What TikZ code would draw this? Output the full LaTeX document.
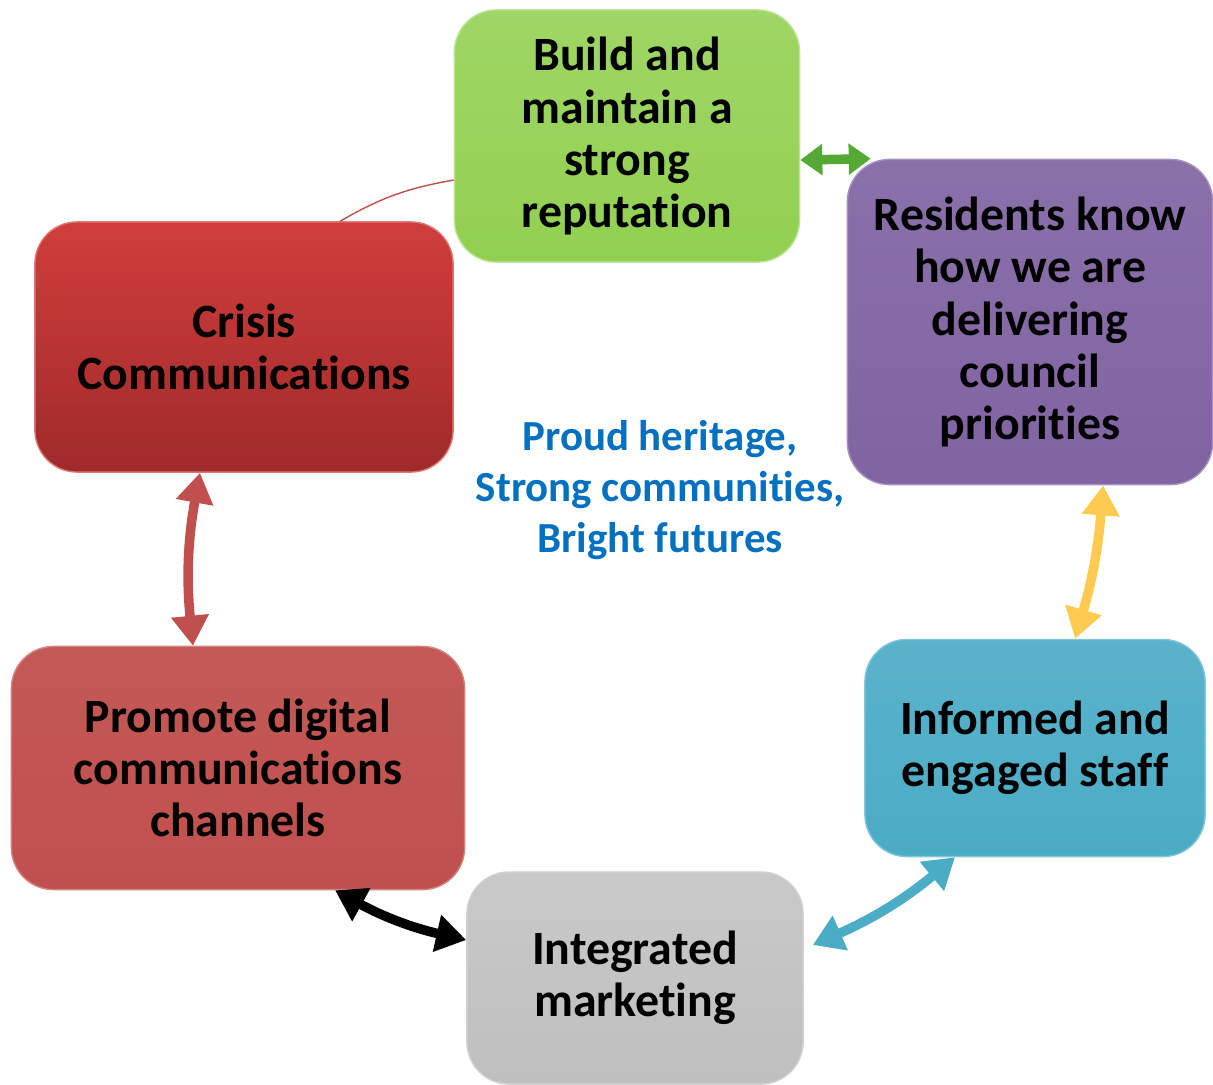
\documentclass[tikz,border=0pt]{standalone}
\usepackage{fontspec}
\setmainfont{Carlito}[Ligatures=NoCommon]
\usetikzlibrary{arrows.meta}

\definecolor{leaf}{HTML}{92D050}
\definecolor{plum}{HTML}{8064A2}
\definecolor{teal}{HTML}{4BACC6}
\definecolor{stone}{HTML}{BFBFBF}
\definecolor{brick}{HTML}{C0504D}
\definecolor{crimsontop}{HTML}{D03E3C}
\definecolor{crimsonbot}{HTML}{A02A2A}
\definecolor{motto}{HTML}{0070C0}
\definecolor{leafarrow}{HTML}{55A834}
\definecolor{sun}{HTML}{FFCA50}

\tikzset{
  box/.style={rounded corners=0.42cm, inner sep=0pt, align=center,
    font=\bfseries\fontsize{13.6}{14.8}\selectfont},
  link/.style={{Triangle[length=0.3cm,width=0.36cm]}-{Triangle[length=0.3cm,width=0.36cm]},
    line width=2.7pt},
  shortlink/.style={{Triangle[length=0.22cm,width=0.3cm]}-{Triangle[length=0.22cm,width=0.3cm]},
    line width=2.7pt}
}

\begin{document}
\begin{tikzpicture}[x=0.01cm, y=-0.01cm]
    \useasboundingbox[fill=white] (0,0) rectangle (1213,1084);

    % the six goals
    \node[box, top color=leaf!88!white, bottom color=leaf, draw=leaf!60!white,
      minimum width=3.45cm, minimum height=2.52cm] (build) at (627,136)
      {Build and\\maintain a\\strong\\reputation};
    \node[box, top color=plum!92!white, bottom color=plum, draw=plum!70!white,
      minimum width=3.65cm, minimum height=3.25cm] (residents) at (1030,322)
      {Residents know\\how we are\\delivering\\council\\priorities};
    \node[box, top color=teal!92!white, bottom color=teal, draw=teal!70!white,
      minimum width=3.40cm, minimum height=2.17cm] (informed) at (1035,748)
      {Informed and\\engaged staff};
    \node[box, top color=stone!85!white, bottom color=stone, draw=stone!70!white,
      minimum width=3.36cm, minimum height=2.12cm] (marketing) at (635,978)
      {Integrated\\marketing};
    \node[box, top color=brick!95!white, bottom color=brick, draw=brick!70!white,
      minimum width=4.53cm, minimum height=2.43cm] (digital) at (238,768)
      {Promote digital\\communications\\channels};
    \node[box, top color=crimsontop, bottom color=crimsonbot, draw=crimsontop!70!white,
      minimum width=4.18cm, minimum height=2.50cm] (crisis) at (244,347)
      {Crisis\\Communications};

    % motto in the middle
    \node[align=center, text=motto, font=\bfseries\fontsize{12.2}{14.5}\selectfont] (motto) at (660,490)
      {Proud heritage,\\Strong communities,\\Bright futures};

    % connectors
    \draw[shortlink, leafarrow] ([yshift=-0.24cm]build.east) -- ([xshift=0.24cm]residents.north west);
    \draw[link, sun] ([xshift=0.73cm]residents.south) to[bend left=6] ([xshift=0.40cm]informed.north);
    \draw[link, teal] ([xshift=-0.80cm]informed.south) to[bend left=8] ([xshift=0.09cm, yshift=0.33cm]marketing.east);
    \draw[link, black] ([xshift=0.97cm]digital.south) to[bend right=8] ([yshift=0.38cm]marketing.west);
    \draw[link, brick] ([xshift=-0.44cm]crisis.south) to[bend right=8] ([xshift=-0.45cm]digital.north);
    \draw[brick, thin] ([yshift=-0.44cm]build.west) to[bend right=10] ([xshift=0.96cm]crisis.north);
\end{tikzpicture}
\end{document}
